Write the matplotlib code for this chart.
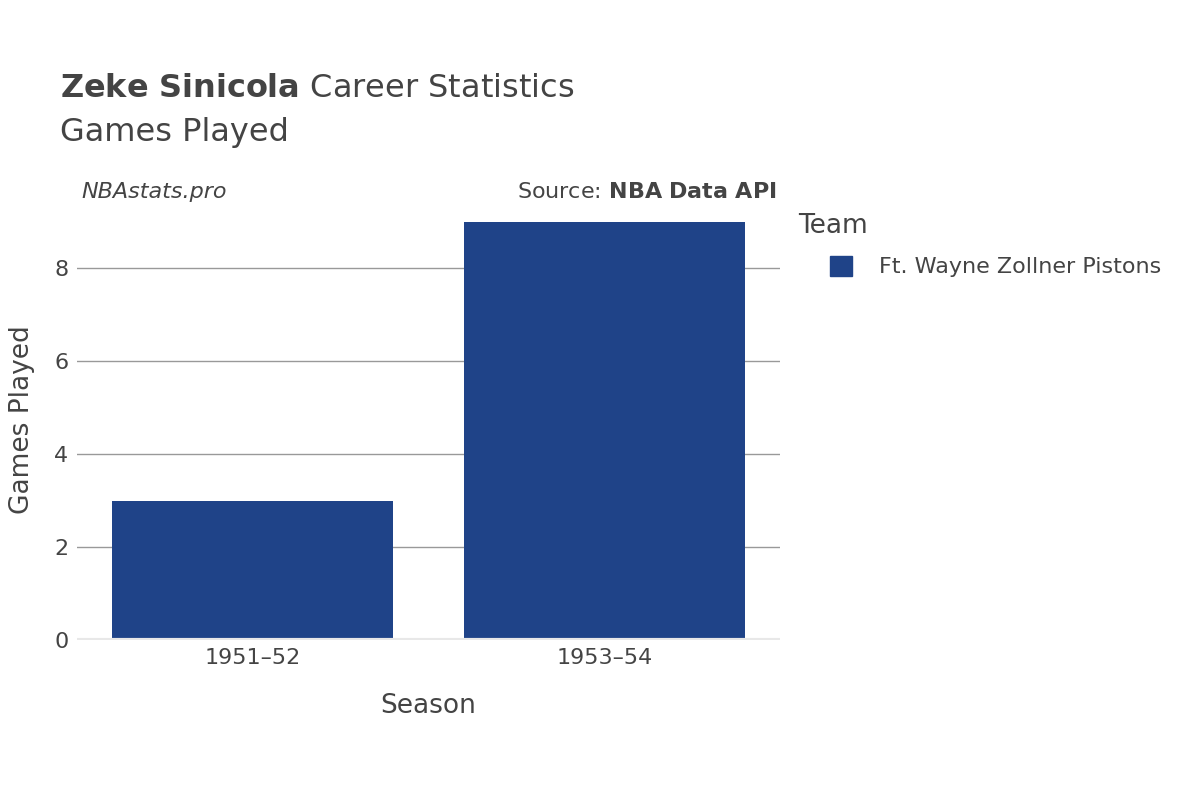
import matplotlib
matplotlib.use("Agg")
import matplotlib.pyplot as plt

seasons = ["1951–52", "1953–54"]
games = [3, 9]
team = "Ft. Wayne Zollner Pistons"
color = "#1f4388"

plt.rcParams['font.family'] = ['DejaVu Sans']
plt.rcParams['mathtext.fontset'] = 'dejavusans'
fig = plt.figure(figsize=(12, 8), dpi=100)
ax = fig.add_axes([0.064, 0.2, 0.586, 0.55])
x = range(len(seasons))
ax.bar(x, games, width=0.8, color=color, zorder=3, label=team)
ax.set_xlim(-0.5, 1.5)
ax.set_ylim(0, 9.47)
ax.set_xticks(list(x))
ax.set_xticklabels(seasons)
ax.set_yticks([0, 2, 4, 6, 8])
ax.grid(axis='y', color='#999999', linewidth=1, zorder=0)
ax.axhline(0, color='#e8e8e8', linewidth=3, zorder=4)
for s in ax.spines.values():
    s.set_visible(False)
ax.tick_params(axis='both', length=0, labelsize=16, colors='#444444', pad=6)
ax.set_xlabel("Season", fontsize=19, color='#444444', labelpad=18)
ax.set_ylabel("Games Played", fontsize=19, color='#444444', labelpad=14)

fig.text(0.05, 0.87, "$\\bf{Zeke\\ Sinicola}$ Career Statistics", fontsize=23, color='#444444', va='bottom')
fig.text(0.05, 0.815, "Games Played", fontsize=23, color='#444444', va='bottom')
fig.text(0.068, 0.76, "NBAstats.pro", fontsize=16, style='italic', color='#444444', va='center')
fig.text(0.647, 0.76, "Source: $\\bf{NBA\\ Data\\ API}$", fontsize=16, color='#444444', va='center', ha='right')

fig.text(0.665, 0.717, "Team", fontsize=19, color='#444444', va='center')
leg = fig.legend(handles=[plt.Rectangle((0, 0), 1, 1, color=color)], labels=[team],
                 loc='center left', bbox_to_anchor=(0.675, 0.667), frameon=False,
                 fontsize=16, handlelength=1.0, handleheight=1.0, handletextpad=1.2)
for t in leg.get_texts():
    t.set_color('#444444')
fig.savefig("out.png")
